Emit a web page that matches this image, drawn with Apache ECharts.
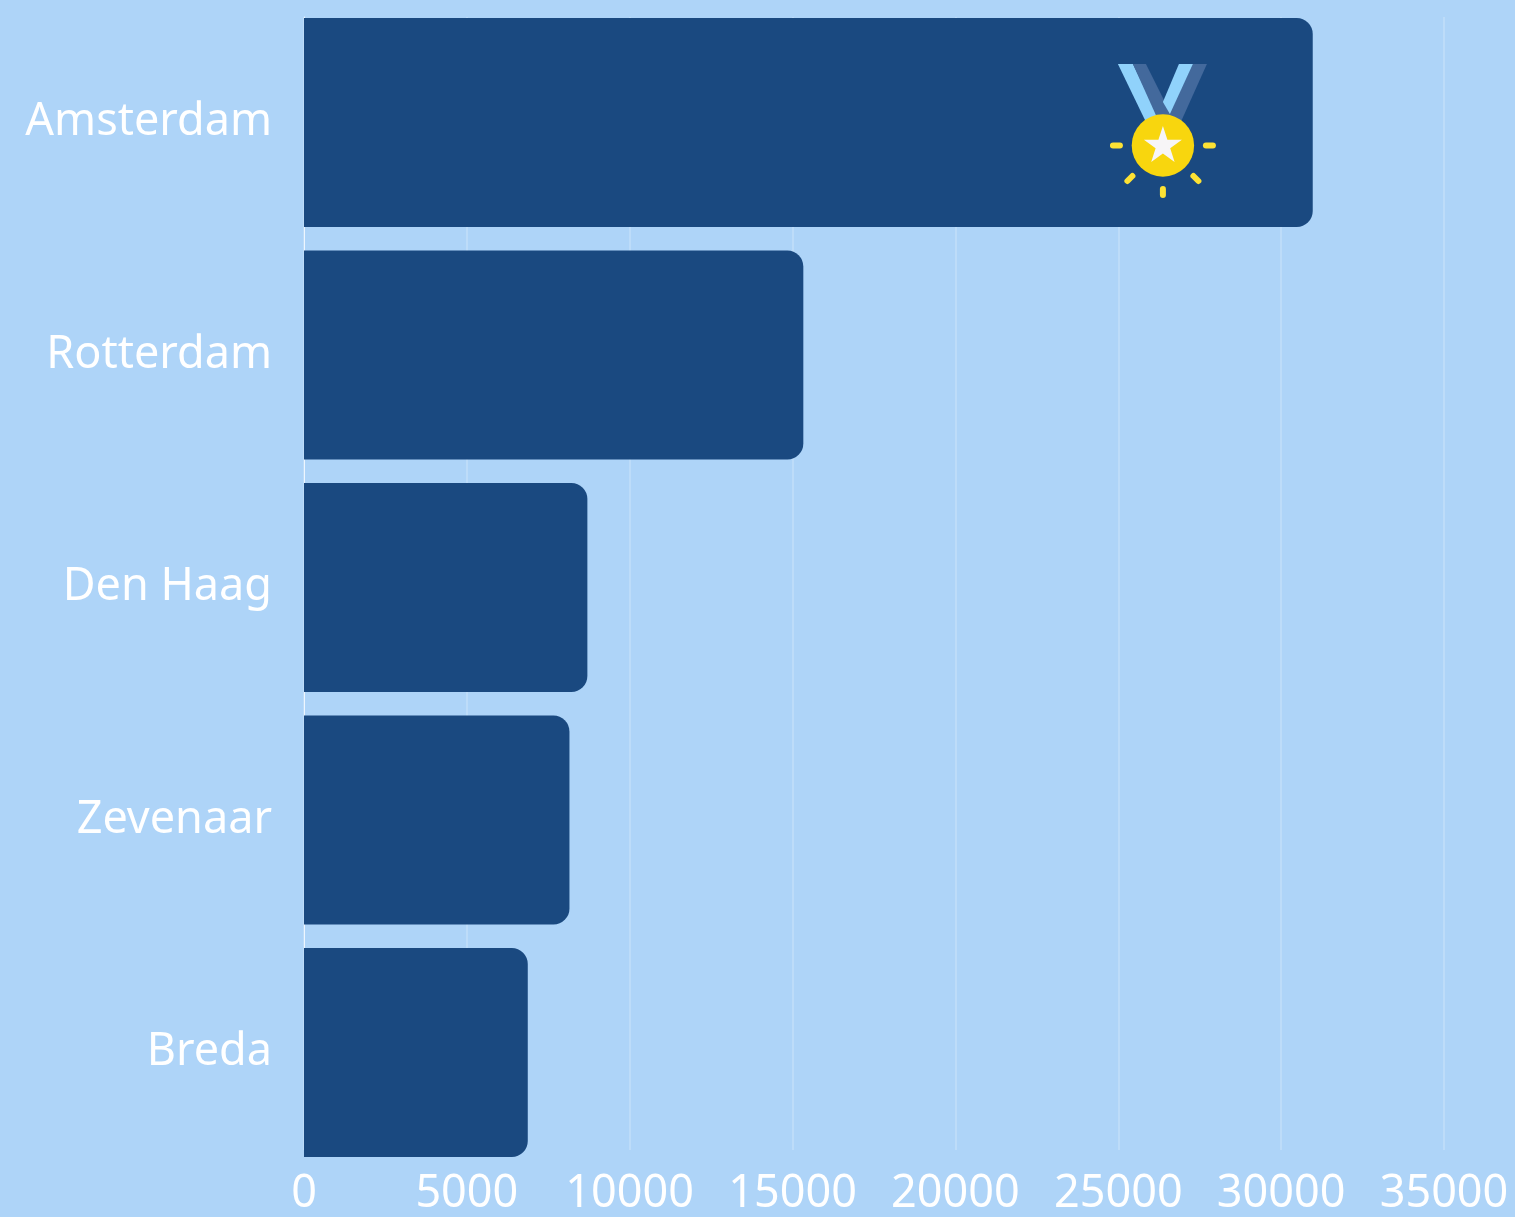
<!DOCTYPE html>
<html>
<head>
<meta charset="utf-8">
<style>
  html, body { margin: 0; padding: 0; background: #aed4f8; }
  #chart { width: 1515px; height: 1217px; }
</style>
<script src="https://cdn.jsdelivr.net/npm/echarts@6/dist/echarts.min.js"></script>
</head>
<body>
<div id="chart"></div>
<script>
const cities = ['Amsterdam', 'Rotterdam', 'Den Haag', 'Zevenaar', 'Breda']
const visitors = [30970, 15330, 8700, 8150, 6870]
const medalAt = [26370, 'Amsterdam']

const medal = `<svg xmlns="http://www.w3.org/2000/svg" width="106" height="134" viewBox="0 0 106 134">
<polygon points="8,0 23,0 52,60 37,60" fill="#90d2fb"/>
<polygon points="23,0 36,0 62,52 50,60" fill="#43699c"/>
<polygon points="97,0 83,0 58,52 70,60" fill="#43699c"/>
<polygon points="83,0 69,0 53,38 60,50" fill="#90d2fb"/>
<circle cx="53" cy="81.500" r="31.200" fill="#f8d60e"/>
<polygon points="53,62 57.500,75.700 72,75.700 60.300,84.300 64.700,98 53,89.500 41.300,98 45.700,84.300 34,75.700 48.500,75.700" fill="#f7f5f7"/>
<g stroke="#fde234" stroke-width="6" stroke-linecap="round">
<line x1="3" y1="81.500" x2="10" y2="81.500"/>
<line x1="96" y1="81.500" x2="103" y2="81.500"/>
<line x1="17.500" y1="117" x2="22.500" y2="112"/>
<line x1="83.500" y1="112" x2="88.500" y2="117"/>
<line x1="53" y1="125" x2="53" y2="131"/>
</g>
</svg>`

const chart = echarts.init(document.getElementById('chart'))
const option = {
  backgroundColor: '#aed4f8',
  animation: false,
  // first grid only carries the value axis and gridlines, bars sit on the second one
  // so that the first and last bar can touch the ends of the gridlines
  grid: [
    { left: 304, top: 17, width: 1140, height: 1140 },
    { left: 304, top: 122.5, width: 1140, height: 930 },
  ],
  xAxis: [
    {
      type: 'value',
      gridIndex: 0,
      min: 0,
      max: 35000,
      interval: 5000,
      axisLine: { show: false },
      axisTick: { show: false },
      axisLabel: {
        color: '#fff',
        fontSize: 45,
        fontFamily: 'Noto Sans',
        margin: 22,
        formatter: (v) => String(v),
      },
      splitLine: {
        lineStyle: { color: 'rgba(255,255,255,0.25)', width: 1.5 },
      },
    },
    {
      type: 'value',
      gridIndex: 1,
      min: 0,
      max: 35000,
      interval: 5000,
      show: false,
    },
  ],
  yAxis: [
    {
      type: 'value',
      gridIndex: 0,
      min: 0,
      max: 1,
      interval: 1,
      axisLine: { show: true, lineStyle: { color: 'rgba(255,255,255,0.75)', width: 1 } },
      axisTick: { show: false },
      axisLabel: { show: false },
      splitLine: { show: false },
    },
    {
      type: 'category',
      gridIndex: 1,
      inverse: true,
      boundaryGap: false,
      data: cities,
      axisLine: { show: false },
      axisTick: { show: false },
      splitLine: { show: false },
      axisLabel: {
        color: '#fff',
        fontSize: 45,
        fontFamily: 'Noto Sans',
        margin: 32,
      },
    },
  ],
  series: [
    {
      type: 'bar',
      xAxisIndex: 1,
      yAxisIndex: 1,
      clip: false,
      data: visitors,
      barWidth: 209,
      itemStyle: {
        color: '#1a4980',
        borderRadius: [0, 16, 16, 0],
      },
      markPoint: {
        silent: true,
        symbol: 'image://data:image/svg+xml;charset=utf-8,' + encodeURIComponent(medal),
        symbolSize: [106, 134],
        label: { show: false },
        data: [{ coord: medalAt, symbolOffset: [0, 8.500] }],
      },
    },
  ],
}
chart.setOption(option)
</script>
</body>
</html>
